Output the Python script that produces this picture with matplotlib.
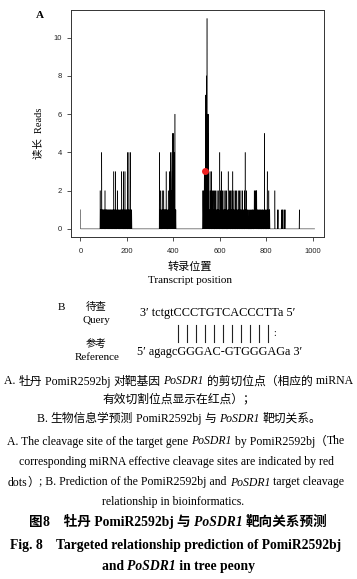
"""
Fig. 8: degradome target plot of PomiR2592bj on PoSDR1 plus the alignment and captions
"""
import numpy as np
import matplotlib
matplotlib.use('Agg')
import matplotlib.pyplot as plt
from matplotlib.font_manager import FontProperties

W, H = 357, 579
SERIF_CJK = ['Liberation Serif', 'Noto Sans CJK SC', 'DejaVu Sans']
LATIN = 'Liberation Serif'
CJK = 'Noto Sans CJK SC'

# degradome reads (transcript position, reads); unlisted positions are zero
seq_len = 1008
pos_c0 = [0]
reads_c0 = [1]
pos_c1 = [85, 87, 89, 92, 94, 96, 99, 101, 104, 106, 108, 111, 113, 115, 118, 120, 123, 125, 128, 130,
          133, 136, 139, 141, 144, 146, 149, 152, 155, 158, 160, 162, 165, 168, 171, 174, 176, 178, 181,
          183, 186, 189, 192, 195, 198, 200, 203, 206, 209, 212, 215, 218, 221]
reads_c1 = [2, 1, 1, 4, 1, 1, 1, 1, 1, 2, 1, 1, 1, 1, 1, 1, 1, 1, 1, 1,
            1, 1, 1, 1, 3, 1, 1, 3, 1, 1, 2, 1, 1, 1, 1, 1, 1, 3, 1,
            1, 3, 1, 3, 1, 1, 1, 4, 1, 4, 1, 4, 1, 1]
pos_c2 = [340, 343, 346, 349, 352, 355, 357, 359, 361, 363, 365, 367, 369, 372, 375, 378, 380, 383, 385,
          387, 389, 391, 392, 394, 396, 398, 400, 401, 403, 405, 407, 409, 411]
reads_c2 = [4, 1, 2, 1, 2, 1, 1, 2, 1, 1, 1, 1, 3, 1, 1, 2, 1, 3, 2,
            4, 3, 2, 4, 2, 5, 3, 4, 5, 4, 2, 6, 1, 1]
pos_c3 = [527, 529, 531, 533, 535, 537, 539, 541, 543, 545, 547, 549, 551, 553, 555, 558, 560, 562, 565,
          567, 569, 572, 574, 577, 580, 582, 585, 588, 590, 593, 596, 600, 602, 604, 607, 609, 612, 615,
          618, 620, 623, 626, 629, 632, 636, 638, 641, 643, 646, 649, 652, 656, 658, 661, 664, 667, 670,
          673, 676, 679, 682, 685, 688, 691, 694, 697, 700, 703, 706, 709, 711, 714, 717, 720, 723, 727,
          731, 735, 739, 742, 745, 748, 750, 752, 754, 756, 759, 761, 764, 767, 770, 773, 776, 779, 782,
          785, 788, 792, 794, 797, 800, 804, 807, 811, 813, 815]
reads_c3 = [2, 1, 2, 3, 1, 3, 7, 6, 8, 11, 6, 5, 6, 2, 1, 3, 1, 2, 3,
            1, 2, 2, 1, 2, 1, 2, 1, 2, 1, 2, 1, 4, 1, 2, 3, 1, 2, 1,
            2, 1, 2, 1, 2, 1, 3, 1, 2, 1, 2, 1, 2, 3, 1, 2, 1, 2, 1,
            2, 1, 2, 1, 2, 1, 2, 1, 2, 1, 1, 2, 4, 1, 2, 1, 1, 1, 1,
            1, 1, 1, 1, 1, 2, 1, 2, 1, 2, 2, 1, 1, 1, 1, 1, 1, 1, 1,
            1, 1, 5, 1, 1, 1, 3, 1, 2, 1, 1]
pos_c4 = [837, 848, 851, 865, 869, 872, 878, 881, 942]
reads_c4 = [2, 1, 1, 1, 1, 1, 1, 1, 1]

# effective cleavage site (red dot)
site_pos = 535
site_reads = 3

x_ticks = [0, 200, 400, 600, 800, 1000]
y_ticks = [0, 2, 4, 6, 8, 10]

# alignment, panel B
query_seq = "3\u2032 tctgtCCCTGTCACCCTTa 5\u2032"
ref_seq = "5\u2032 agagcGGGAC-GTGGGAGa 3\u2032"
n_bars = 11   # perfect pairs, then one G:U wobble


reads = np.zeros(seq_len + 1)
for p_list, r_list in [(pos_c0, reads_c0), (pos_c1, reads_c1), (pos_c2, reads_c2),
                       (pos_c3, reads_c3), (pos_c4, reads_c4)]:
    reads[p_list] = r_list
positions = np.arange(seq_len + 1)

fig = plt.figure(figsize=(W / 100, H / 100), dpi=100)
fig.patch.set_facecolor('white')


def fx(px):
    return px / W


def fy(py):
    return 1 - py / H


# ----------------------------
# Panel A
# ----------------------------
ax = fig.add_axes([fx(71), fy(237.3), fx(324) - fx(71), fy(10) - fy(237.3)])
ax.plot(positions, reads, color='black', lw=0.35)
ax.plot([site_pos], [site_reads], 'o', color='#ee2222', markersize=5, markeredgewidth=0)
ax.set_xlim(-0.04 * seq_len, seq_len * 1.04)
ax.set_ylim(-0.44, 11.44)
ax.set_xticks(x_ticks)
ax.set_yticks(y_ticks)
for sp in ax.spines.values():
    sp.set_linewidth(0.7)
    sp.set_color('#333333')
ax.tick_params(axis='both', length=3.2, width=0.6, color='#333333', labelsize=5.5, labelcolor='#222222')
ax.tick_params(axis='x', pad=4.3)
ax.tick_params(axis='y', pad=3.4)
for lab in ax.get_xticklabels() + ax.get_yticklabels():
    lab.set_family('Liberation Sans')

fig.text(fx(36), fy(18), 'A', fontsize=8, weight='bold', family=LATIN)
fig.text(fx(38), fy(133), '读长  Reads', fontsize=7.5, rotation=90, ha='center', va='center', family=SERIF_CJK)
fig.text(fx(190), fy(267), '转录位置', fontsize=8, ha='center', va='center', family=CJK)
fig.text(fx(190), fy(283), 'Transcript position', fontsize=8, ha='center', va='baseline', family=LATIN)

renderer = fig.canvas.get_renderer()


def is_cjk(ch):
    o = ord(ch)
    return o >= 0x2E80 and not (0x2000 <= o <= 0x206F)


def split_script(s):
    # break a string into runs of CJK / non-CJK characters
    out = []
    for ch in s:
        c = is_cjk(ch)
        if out and out[-1][1] == c:
            out[-1][0] += ch
        else:
            out.append([ch, c])
    return [(t, CJK if c else LATIN) for t, c in out]


def text_width(s, size, style='normal', weight='normal', family=SERIF_CJK):
    # measure between bars so edge spaces count
    prop = FontProperties(family=family, size=size, style=style, weight=weight)
    w1 = renderer.get_text_width_height_descent('|' + s + '|', prop, ismath=False)[0]
    w0 = renderer.get_text_width_height_descent('||', prop, ismath=False)[0]
    return w1 - w0


def draw_runs(y, runs, size, weight='normal', x0=None, xc=None):
    pieces = []
    for s, st in runs:
        for t, fam in split_script(s):
            pieces.append((t, st, fam, text_width(t, size, st, weight, fam)))
    x = x0 if x0 is not None else xc - sum(p[3] for p in pieces) / 2
    for t, st, fam, w in pieces:
        fig.text(fx(x), fy(y), t, fontsize=size, style=st, weight=weight, family=fam,
                 va='baseline', ha='left')
        x += w


# ----------------------------
# Panel B
# ----------------------------
fig.text(fx(61.5), fy(310), 'B', fontsize=8, family=LATIN, ha='center', va='baseline')
fig.text(fx(96), fy(306.5), '待查', fontsize=7.5, family=CJK, ha='center', va='center')
fig.text(fx(96), fy(323), 'Query', fontsize=8, family=LATIN, ha='center', va='baseline')
fig.text(fx(96), fy(343.5), '参考', fontsize=7.5, family=CJK, ha='center', va='center')
fig.text(fx(97), fy(360), 'Reference', fontsize=8, family=LATIN, ha='center', va='baseline')

seq_size = 8.8
q_x0 = 140
draw_runs(316, [(query_seq, 'normal')], seq_size, x0=q_x0)
draw_runs(355, [(ref_seq, 'normal')], seq_size, x0=137)


def char_center(s, i):
    return q_x0 + text_width(s[:i], seq_size, family=LATIN) + text_width(s[i], seq_size, family=LATIN) / 2


upper_start = query_seq.index('C')
first_x = char_center(query_seq, upper_start)
last_x = char_center(query_seq, upper_start + n_bars)
step = (last_x - first_x) / (n_bars - 1)
for k in range(n_bars):
    xc = first_x + k * step
    fig.add_artist(plt.Line2D([fx(xc), fx(xc)], [fy(325), fy(341.5)], transform=fig.transFigure,
                              color='#222222', lw=0.8))
colon_x = char_center(query_seq, upper_start + n_bars + 1)
fig.text(fx(colon_x - 1), fy(333.5), ':', fontsize=7, family=LATIN, ha='center', va='center')

# ----------------------------
# Captions
# ----------------------------
cap = 8.5
draw_runs(384.5, [('A. 牡丹 PomiR2592bj 对靶基因 ', 'normal'), ('PoSDR1', 'italic'),
                  (' 的剪切位点（相应的 miRNA', 'normal')], cap, x0=4)
draw_runs(402.5, [('有效切割位点显示在红点）；', 'normal')], cap, xc=178.5)
draw_runs(422, [('B. 生物信息学预测 PomiR2592bj 与 ', 'normal'), ('PoSDR1', 'italic'),
                (' 靶切关系。', 'normal')], cap, xc=179)
draw_runs(444.5, [('A. The cleavage site of the target gene ', 'normal'), ('PoSDR1', 'italic'),
                  (' by PomiR2592bj（The', 'normal')], cap, x0=7)
draw_runs(465.5, [('corresponding miRNA effective cleavage sites are indicated by red', 'normal')], cap, xc=176)
draw_runs(485.5, [('dots）; B. Prediction of the PomiR2592bj and ', 'normal'), ('PoSDR1', 'italic'),
                  (' target cleavage', 'normal')], cap, x0=8)
draw_runs(505, [('relationship in bioinformatics.', 'normal')], cap, xc=173)

ttl = 9.8
draw_runs(526, [('图8\u3000牡丹 PomiR2592bj 与 ', 'normal'), ('PoSDR1', 'italic'), (' 靶向关系预测', 'normal')],
          ttl, weight='bold', xc=178.5)
draw_runs(549, [('Fig. 8    Targeted relationship prediction of PomiR2592bj', 'normal')],
          ttl, weight='bold', x0=10)
draw_runs(570, [('and ', 'normal'), ('PoSDR1', 'italic'), (' in tree peony', 'normal')],
          ttl, weight='bold', xc=178.5)

fig.savefig('out.png', dpi=100, facecolor='white')
